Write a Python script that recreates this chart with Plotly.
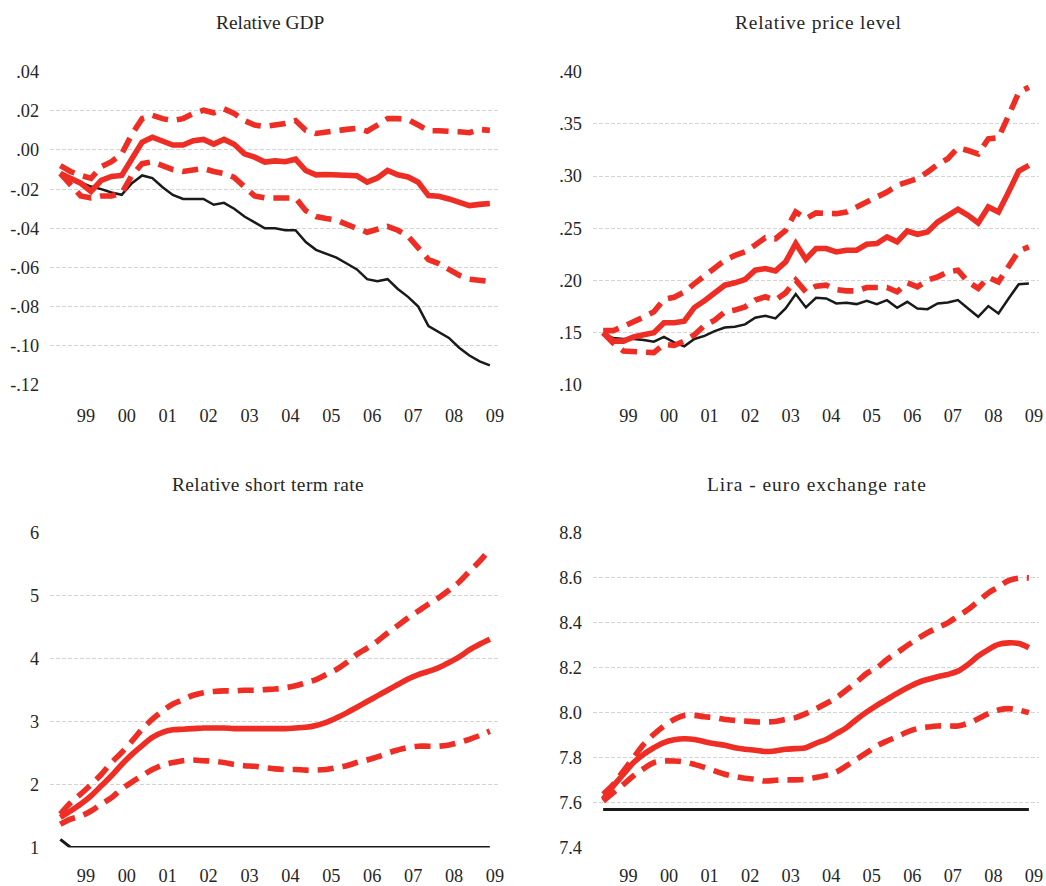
import pandas as pd
import plotly.graph_objects as go

# Quarterly observations, 1998Q4 - 2009Q2
periods = pd.period_range("1998Q4", "2009Q2", freq="Q")
year_labels = ["99", "00", "01", "02", "03", "04", "05", "06", "07", "08", "09"]
year_centres = [1999.5 + k for k in range(len(year_labels))]

# --- Relative GDP ---
gdp_actual = [-0.012, -0.0149, -0.0166, -0.0187, -0.020, -0.0217, -0.0229, -0.017, -0.013, -0.0144,
              -0.019, -0.023, -0.025, -0.025, -0.025, -0.028, -0.027, -0.030, -0.034, -0.037,
              -0.040, -0.040, -0.041, -0.041, -0.047, -0.051, -0.053, -0.055, -0.058, -0.061,
              -0.066, -0.067, -0.066, -0.071, -0.075, -0.080, -0.090, -0.093, -0.096, -0.101,
              -0.105, -0.108, -0.110]
gdp_mean = [-0.012, -0.0144, -0.017, -0.0212, -0.0155, -0.0135, -0.013, -0.0045, 0.004, 0.0065,
            0.0042, 0.0025, 0.0025, 0.0047, 0.0054, 0.003, 0.0054, 0.0029, -0.002, -0.0037,
            -0.0062, -0.0056, -0.006, -0.0047, -0.0105, -0.0127, -0.0125, -0.0127, -0.0132, -0.0132,
            -0.0164, -0.0143, -0.0105, -0.0127, -0.0138, -0.0165, -0.0233, -0.0236, -0.025, -0.027,
            -0.0284, -0.0278, -0.0273]
gdp_upper = [-0.008, -0.011, -0.013, -0.0145, -0.0085, -0.006, -0.002, 0.008, 0.016, 0.0177,
             0.016, 0.015, 0.016, 0.0186, 0.0203, 0.019, 0.021, 0.0186, 0.015, 0.0127,
             0.012, 0.0127, 0.0135, 0.015, 0.010, 0.0084, 0.0093, 0.010, 0.0105, 0.011,
             0.0096, 0.0127, 0.016, 0.016, 0.0155, 0.0127, 0.0098, 0.0098, 0.0098, 0.0093,
             0.0088, 0.0105, 0.010]
gdp_lower = [-0.012, -0.018, -0.0235, -0.0245, -0.0235, -0.0235, -0.022, -0.013, -0.007, -0.006,
             -0.0078, -0.010, -0.011, -0.0105, -0.0095, -0.011, -0.012, -0.014, -0.019, -0.0235,
             -0.0245, -0.0245, -0.0245, -0.0245, -0.031, -0.034, -0.035, -0.0358, -0.038, -0.040,
             -0.042, -0.0405, -0.039, -0.041, -0.044, -0.050, -0.056, -0.058, -0.061, -0.064,
             -0.066, -0.0667, -0.0672]

# --- Relative price level ---
price_actual = [0.148, 0.145, 0.144, 0.144, 0.143, 0.1414, 0.146, 0.1408, 0.137, 0.144,
                0.147, 0.1515, 0.155, 0.1557, 0.158, 0.1643, 0.1662, 0.1637, 0.1732, 0.187,
                0.1742, 0.1834, 0.1828, 0.178, 0.1787, 0.1774, 0.1806, 0.1774, 0.1812, 0.1739,
                0.1796, 0.1732, 0.1726, 0.178, 0.179, 0.1812, 0.1732, 0.1653, 0.1755, 0.1685,
                0.1828, 0.1965, 0.1971]
price_mean = [0.150, 0.142, 0.142, 0.146, 0.148, 0.150, 0.1596, 0.1596, 0.161, 0.1742,
              0.1806, 0.1882, 0.1955, 0.1978, 0.201, 0.2099, 0.2115, 0.2092, 0.2178, 0.2354,
              0.2204, 0.2306, 0.2306, 0.2274, 0.229, 0.229, 0.2347, 0.2354, 0.2417, 0.237,
              0.2474, 0.2443, 0.2465, 0.256, 0.2615, 0.2682, 0.2624, 0.2551, 0.2704, 0.2656,
              0.2847, 0.3048, 0.3102]
price_upper = [0.152, 0.152, 0.156, 0.160, 0.165, 0.170, 0.182, 0.184, 0.189, 0.197,
               0.205, 0.2115, 0.2194, 0.224, 0.2274, 0.234, 0.241, 0.240, 0.248, 0.2656,
               0.2592, 0.2647, 0.2647, 0.264, 0.2656, 0.2704, 0.2752, 0.280, 0.2847, 0.2911,
               0.2943, 0.2975, 0.3038, 0.3111, 0.3166, 0.327, 0.3245, 0.3213, 0.3357, 0.3366,
               0.358, 0.380, 0.385]
price_lower = [0.150, 0.140, 0.1325, 0.132, 0.1315, 0.131, 0.139, 0.1378, 0.142, 0.148,
               0.157, 0.162, 0.170, 0.1717, 0.1748, 0.1812, 0.1844, 0.1812, 0.1882, 0.2003,
               0.1892, 0.1946, 0.1955, 0.1914, 0.1901, 0.1901, 0.1933, 0.1933, 0.1933, 0.1892,
               0.1978, 0.194, 0.2003, 0.2035, 0.2083, 0.2099, 0.1987, 0.1924, 0.2029, 0.1987,
               0.2131, 0.2283, 0.2322]

# --- Relative short term rate ---
rate_actual = [1.13] + [1.0] * 42
rate_mean = [1.48, 1.58, 1.69, 1.82, 1.98, 2.14, 2.32, 2.48, 2.62, 2.75,
             2.83, 2.87, 2.88, 2.89, 2.90, 2.90, 2.90, 2.89, 2.89, 2.89,
             2.89, 2.89, 2.89, 2.90, 2.91, 2.94, 2.99, 3.06, 3.14, 3.23,
             3.32, 3.41, 3.50, 3.59, 3.68, 3.75, 3.80, 3.86, 3.94, 4.03,
             4.14, 4.23, 4.31]
rate_upper = [1.53, 1.71, 1.85, 2.00, 2.16, 2.35, 2.51, 2.69, 2.88, 3.04,
              3.17, 3.28, 3.35, 3.42, 3.46, 3.48, 3.49, 3.49, 3.50, 3.50,
              3.51, 3.52, 3.54, 3.57, 3.62, 3.67, 3.75, 3.83, 3.94, 4.07,
              4.17, 4.28, 4.41, 4.53, 4.65, 4.76, 4.87, 4.97, 5.09, 5.22,
              5.39, 5.55, 5.74]
rate_lower = [1.37, 1.45, 1.50, 1.58, 1.69, 1.79, 1.93, 2.04, 2.14, 2.24,
              2.31, 2.35, 2.38, 2.39, 2.38, 2.37, 2.35, 2.32, 2.30, 2.29,
              2.27, 2.25, 2.24, 2.24, 2.23, 2.23, 2.24, 2.27, 2.30, 2.35,
              2.39, 2.44, 2.50, 2.55, 2.59, 2.61, 2.61, 2.61, 2.63, 2.67,
              2.72, 2.78, 2.85]

# --- Lira - euro exchange rate (log of 1936.27) ---
fx_actual = [7.5686] * 43
fx_mean = [7.615, 7.674, 7.726, 7.778, 7.815, 7.844, 7.867, 7.879, 7.884, 7.881,
           7.871, 7.862, 7.855, 7.844, 7.837, 7.833, 7.827, 7.830, 7.837, 7.840,
           7.844, 7.864, 7.881, 7.907, 7.933, 7.970, 8.003, 8.033, 8.059, 8.086,
           8.111, 8.133, 8.148, 8.160, 8.170, 8.185, 8.215, 8.252, 8.281, 8.304,
           8.311, 8.308, 8.289]
fx_upper = [7.637, 7.681, 7.741, 7.800, 7.859, 7.904, 7.941, 7.970, 7.988, 7.988,
            7.982, 7.978, 7.970, 7.966, 7.963, 7.959, 7.959, 7.961, 7.970, 7.978,
            7.996, 8.018, 8.041, 8.067, 8.101, 8.136, 8.175, 8.200, 8.237, 8.267,
            8.299, 8.329, 8.356, 8.378, 8.400, 8.430, 8.459, 8.496, 8.533, 8.560,
            8.588, 8.599, 8.600]
fx_lower = [7.607, 7.644, 7.681, 7.719, 7.751, 7.778, 7.785, 7.785, 7.781, 7.770,
            7.756, 7.741, 7.726, 7.716, 7.708, 7.704, 7.696, 7.699, 7.701, 7.701,
            7.704, 7.711, 7.721, 7.736, 7.763, 7.793, 7.822, 7.852, 7.874, 7.893,
            7.914, 7.929, 7.936, 7.941, 7.941, 7.941, 7.953, 7.973, 7.996, 8.012,
            8.018, 8.012, 8.000]

# axis tick labels
gdp_ticks = [-0.12, -0.10, -0.08, -0.06, -0.04, -0.02, 0.00, 0.02, 0.04]
gdp_ticktext = ["-.12", "-.10", "-.08", "-.06", "-.04", "-.02", ".00", ".02", ".04"]
price_ticks = [0.10, 0.15, 0.20, 0.25, 0.30, 0.35, 0.40]
price_ticktext = [".10", ".15", ".20", ".25", ".30", ".35", ".40"]
rate_ticks = [1, 2, 3, 4, 5, 6]
rate_ticktext = ["1", "2", "3", "4", "5", "6"]
fx_ticks = [7.4, 7.6, 7.8, 8.0, 8.2, 8.4, 8.6, 8.8]
fx_ticktext = ["7.4", "7.6", "7.8", "8.0", "8.2", "8.4", "8.6", "8.8"]

x = [p.year + (p.quarter - 0.5) / 4 for p in periods]

RED = "#EE2D24"
BLACK = "#1a1a1a"
TEXT = "#262626"
FONT = "Liberation Serif"
W, H = 1046, 886
DASH = "16px,9px"

# panel boxes in page pixels: (left, right), (top, bottom); title centre (x, y)
panels = [
    dict(title="Relative GDP", actual=gdp_actual, mean=gdp_mean, upper=gdp_upper, lower=gdp_lower,
         yr=[-0.12, 0.04], tv=gdp_ticks, tt=gdp_ticktext, xd=(50.3, 502.0), yd=(63.2, 384.5),
         tpos=(270.6, 13.0), spacing=0, shape="linear", bw=2.5, xstand=18),
    dict(title="Relative price level", actual=price_actual, mean=price_mean, upper=price_upper,
         lower=price_lower, yr=[0.10, 0.40], tv=price_ticks, tt=price_ticktext,
         xd=(595.3, 1043.0), yd=(63.2, 384.5), tpos=(821.9, 13.0), spacing=0.8,
         shape="linear", bw=2.5, xstand=18),
    dict(title="Relative short term rate", actual=rate_actual, mean=rate_mean, upper=rate_upper,
         lower=rate_lower, yr=[1, 6], tv=rate_ticks, tt=rate_ticktext, xd=(50.3, 502.0),
         yd=(536.3, 858.8), tpos=(269.1, 486.9), spacing=0.4, shape="spline", bw=3, xstand=15),
    dict(title="Lira - euro exchange rate", actual=fx_actual, mean=fx_mean, upper=fx_upper,
         lower=fx_lower, yr=[7.4, 8.8], tv=fx_ticks, tt=fx_ticktext, xd=(595.3, 1043.0),
         yd=(536.3, 858.8), tpos=(820.4, 486.9), spacing=1.0, shape="spline", bw=3, xstand=15),
]

fig = go.Figure()
layout = dict(
    width=W, height=H, margin=dict(l=0, r=0, t=0, b=0),
    paper_bgcolor="white", plot_bgcolor="white", showlegend=False,
    font=dict(family=FONT, size=18, color=TEXT),
    annotations=[],
)

for k, p in enumerate(panels, start=1):
    xa = "x" if k == 1 else f"x{k}"
    ya = "y" if k == 1 else f"y{k}"
    line_shape = p["shape"]
    fig.add_trace(go.Scatter(x=x, y=p["actual"], mode="lines", xaxis=xa, yaxis=ya,
                             line=dict(color=BLACK, width=p["bw"], shape="linear")))
    fig.add_trace(go.Scatter(x=x, y=p["upper"], mode="lines", xaxis=xa, yaxis=ya,
                             line=dict(color=RED, width=5.6, dash=DASH, shape=line_shape)))
    fig.add_trace(go.Scatter(x=x, y=p["lower"], mode="lines", xaxis=xa, yaxis=ya,
                             line=dict(color=RED, width=5.6, dash=DASH, shape=line_shape)))
    fig.add_trace(go.Scatter(x=x, y=p["mean"], mode="lines", xaxis=xa, yaxis=ya,
                             line=dict(color=RED, width=5.6, shape=line_shape)))

    x0, x1 = p["xd"]
    y0, y1 = p["yd"]
    layout["xaxis" if k == 1 else f"xaxis{k}"] = dict(
        domain=[x0 / W, x1 / W], anchor=ya, range=[1998.625, 2009.625],
        tickmode="array", tickvals=year_centres, ticktext=year_labels,
        showgrid=False, zeroline=False, showline=False, ticks="",
        ticklabelstandoff=p["xstand"], tickfont=dict(size=18.3, family=FONT, color=TEXT),
    )
    layout["yaxis" if k == 1 else f"yaxis{k}"] = dict(
        domain=[1 - y1 / H, 1 - y0 / H], anchor=xa, range=p["yr"],
        tickmode="array", tickvals=p["tv"], ticktext=p["tt"],
        showgrid=True, gridcolor="#d4d4d4", gridwidth=1, griddash="4px,2px",
        zeroline=False, showline=False, ticks="",
        ticklabelstandoff=10, tickfont=dict(size=18.3, family=FONT, color=TEXT),
    )
    tx, ty = p["tpos"]
    title = p["title"]
    if p["spacing"]:
        title = f'<span style="letter-spacing:{p["spacing"]}px">{title}</span>'
    layout["annotations"].append(dict(
        text=title, x=tx / W, y=1 - ty / H, xref="paper", yref="paper",
        xanchor="center", yanchor="middle", showarrow=False,
        font=dict(size=19.4, family=FONT, color=TEXT),
    ))

fig.update_layout(**layout)
fig.write_html("out.html")
